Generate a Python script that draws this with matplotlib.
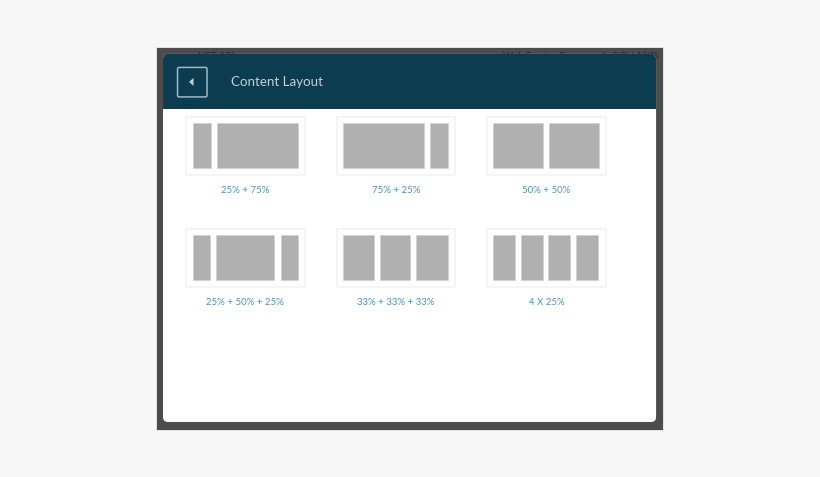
import matplotlib
matplotlib.use("Agg")
import matplotlib.pyplot as plt
from matplotlib.patches import Rectangle, FancyBboxPatch, Polygon

title = "Content Layout"
labels = ["25% + 75%", "75% + 25%", "50% + 50%",
          "25% + 50% + 25%", "33% + 33% + 33%", "4 X 25%"]
card_left = [186, 336.5, 487, 186, 336.5, 487]
card_top = [117, 117, 117, 229, 229, 229]
segments = [
    [(193, 18.3), (217, 81.3)],
    [(343, 81.3), (430, 18.3)],
    [(493, 50.3), (549, 50.3)],
    [(193, 17.3), (216, 58.3), (280.5, 17.8)],
    [(343, 31.3), (380, 30.3), (416, 32.3)],
    [(493, 22.3), (520.5, 22.3), (548, 22.3), (575.5, 22.8)],
]
behind_text = [(198, "NET API"), (503, "Web Service F"), (603, "Lo%% | A%%")]

BG = "#f7f7f7"; FRAME = "#4c4c4c"; HEAD = "#0b3c50"; GREY = "#b0b0b0"; BLUE = "#4a94c0"
plt.rcParams["font.family"] = ["Lato", "DejaVu Sans"]

fig = plt.figure(figsize=(820.1 / 100, 477.1 / 100), dpi=100, facecolor=BG)
ax = fig.add_axes([0, 0, 1, 1])
ax.set_xlim(0, 820); ax.set_ylim(477, 0); ax.axis("off")

# soft shadow and dark frame
ax.add_patch(Rectangle((156, 47), 508, 384, fc="#e2e2e2", ec="none", zorder=0))
ax.add_patch(Rectangle((157, 48), 506, 382, fc=FRAME, ec="none", zorder=1))
for x, s in behind_text:
    ax.text(x, 56, s, fontsize=7, color="#222222", va="center", ha="left", zorder=1.5)

# white panel
ax.add_patch(FancyBboxPatch((166, 57), 487, 362, boxstyle="round,pad=3,rounding_size=5",
                            fc="white", ec="none", zorder=2))
# header
ax.add_patch(FancyBboxPatch((166, 57), 487, 60, boxstyle="round,pad=3,rounding_size=5",
                            fc=HEAD, ec="none", zorder=3))
ax.add_patch(Rectangle((163, 109), 493, 13, fc="white", ec="none", zorder=3))
ax.text(231, 81.5, title, fontsize=9.6, color="#c3d0d5", va="center", ha="left", zorder=4)

# back button
ax.add_patch(FancyBboxPatch((177.5, 67.5), 29.5, 29.5, boxstyle="round,pad=0,rounding_size=1.5",
                            fc="none", ec="#a5b8c0", lw=1.1, zorder=4))
ax.add_patch(Polygon([(193.5, 78), (193.5, 86), (189, 82)], closed=True, fc="#c3d0d5", ec="none", zorder=4))

# layout cards
for left, top, segs, lab in zip(card_left, card_top, segments, labels):
    ax.add_patch(Rectangle((left, top), 118.7, 58, fc="white", ec="#f2f2f2", lw=1.1, zorder=4))
    ax.broken_barh(segs, (top + 6.5, 45), facecolors=GREY, edgecolors="#d2d2d2", linewidth=0.6, zorder=5)
    ax.text(left + 59.3, top + 73, lab, fontsize=6.9, color=BLUE, ha="center", va="center", zorder=5)

fig.savefig("out.png", dpi=100, facecolor=BG)
